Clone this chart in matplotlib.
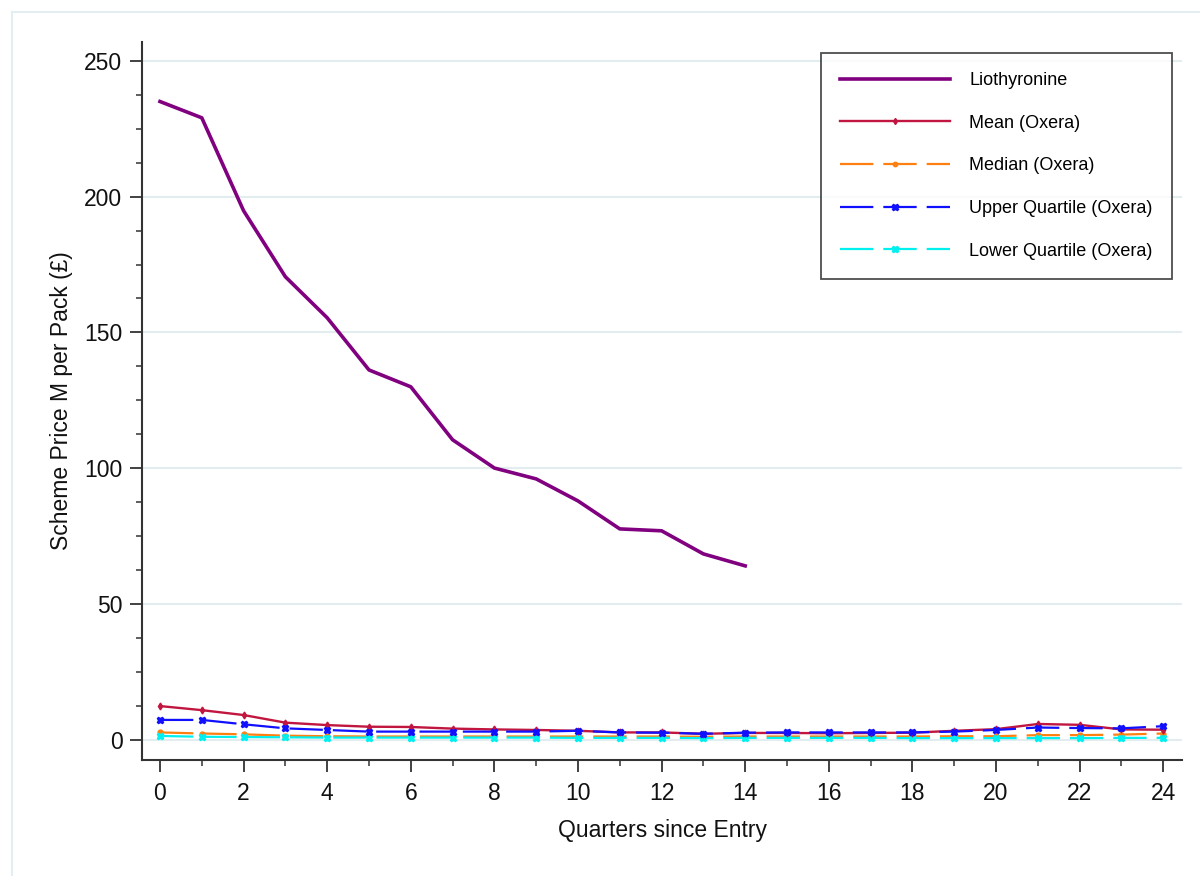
import matplotlib
matplotlib.use("Agg")
import matplotlib.pyplot as plt
from matplotlib.lines import Line2D
from matplotlib.ticker import MultipleLocator

plt.rcParams['font.family'] = ['Liberation Sans', 'DejaVu Sans']

quarters = list(range(25))

liothyronine_q = list(range(15))
liothyronine = [235.0, 229.0, 194.8, 170.5, 155.4, 136.2, 130.0, 110.5, 100.1,
                96.1, 88.0, 77.7, 77.0, 68.5, 64.1]

mean_oxera = [12.5, 11.0, 9.2, 6.4, 5.5, 4.9, 4.8, 4.2, 3.9, 3.7, 3.4, 2.8, 2.8,
              2.3, 2.6, 2.6, 2.5, 2.6, 2.7, 3.4, 4.0, 5.9, 5.6, 3.9, 3.8]
median_oxera = [2.8, 2.4, 2.1, 1.6, 1.4, 1.3, 1.3, 1.3, 1.3, 1.3, 1.3, 1.3, 1.3,
                1.2, 1.3, 1.3, 1.3, 1.3, 1.3, 1.4, 1.4, 1.8, 1.8, 2.0, 2.4]
upper_oxera = [7.4, 7.4, 5.8, 4.3, 3.7, 3.1, 3.1, 3.1, 3.1, 3.1, 3.4, 2.8, 2.7,
               2.3, 2.7, 2.8, 2.8, 2.8, 2.8, 3.1, 3.7, 4.6, 4.4, 4.3, 5.1]
lower_oxera = [1.5, 1.2, 1.1, 1.0, 0.9, 0.9, 0.9, 0.9, 0.9, 0.9, 0.8, 0.8, 0.8,
               0.7, 0.8, 0.8, 0.8, 0.8, 0.7, 0.7, 0.7, 0.7, 0.7, 0.8, 0.8]

labels = ["Liothyronine", "Mean (Oxera)", "Median (Oxera)",
          "Upper Quartile (Oxera)", "Lower Quartile (Oxera)"]

W, H = 1200, 876
fig = plt.figure(figsize=(W / 100, H / 100), dpi=100)
fig.patch.set_facecolor('white')

# light outer frame (top and left edges)
fig.add_artist(Line2D([12 / W, 1.0], [1 - 12 / H, 1 - 12 / H], transform=fig.transFigure,
                      color='#e3edf2', lw=1.5))
fig.add_artist(Line2D([12 / W, 12 / W], [0.0, 1 - 12 / H], transform=fig.transFigure,
                      color='#e3edf2', lw=1.5))

ax = fig.add_axes([142 / W, 1 - 760 / H, (1182 - 142) / W, (760 - 42) / H])

dash = (0, (15, 4.5))
ax.plot(liothyronine_q, liothyronine, color='#800080', lw=2.6, zorder=5)
ax.plot(quarters, mean_oxera, color='#c0163f', lw=1.7, marker='d', ms=3.5, zorder=4)
ax.plot(quarters, median_oxera, color='#ff8010', lw=1.6, ls=dash, marker='o', ms=3.5, zorder=3)
ax.plot(quarters, upper_oxera, color='#1010ff', lw=1.6, ls=dash, marker='X', ms=5, zorder=4)
ax.plot(quarters, lower_oxera, color='#00f0f0', lw=1.6, ls=dash, marker='X', ms=5, zorder=3)

ax.set_xlim(-0.43, 24.45)
ax.set_ylim(-7.35, 256.9)

ax.yaxis.set_major_locator(MultipleLocator(50))
ax.yaxis.set_minor_locator(MultipleLocator(12.5))
ax.xaxis.set_major_locator(MultipleLocator(2))
ax.xaxis.set_minor_locator(MultipleLocator(1))

ax.grid(axis='y', which='major', color='#e3edf0', lw=1.5, zorder=0)
ax.set_axisbelow(True)

for s in ['top', 'right']:
    ax.spines[s].set_visible(False)
for s in ['left', 'bottom']:
    ax.spines[s].set_color('#333333')
    ax.spines[s].set_linewidth(1.5)

ax.tick_params(axis='both', which='major', length=8.6, width=1.3, color='#333333',
               labelsize=16.5, labelcolor='#111111')
ax.tick_params(axis='both', which='minor', length=4.5, width=1.1, color='#333333')
ax.tick_params(axis='y', which='major', pad=5.5)
ax.tick_params(axis='x', which='major', pad=7.5)

ax.set_xlabel("Quarters since Entry", fontsize=16.5, color='#111111', labelpad=10)
ax.set_ylabel("Scheme Price M per Pack (£)", fontsize=16.5, color='#111111', labelpad=8)

leg = ax.legend(labels, loc='upper right', bbox_to_anchor=(0.990, 0.9846),
                fontsize=13, handlelength=6.1, handletextpad=1.05, labelspacing=1.42,
                borderpad=1.05, borderaxespad=0, frameon=True, fancybox=False,
                edgecolor='#222222', markerscale=0.9)
leg.get_frame().set_linewidth(1.3)
for lh in leg.legend_handles:
    lh.set_markevery([1])

fig.savefig("out.png", dpi=100, facecolor='white')
